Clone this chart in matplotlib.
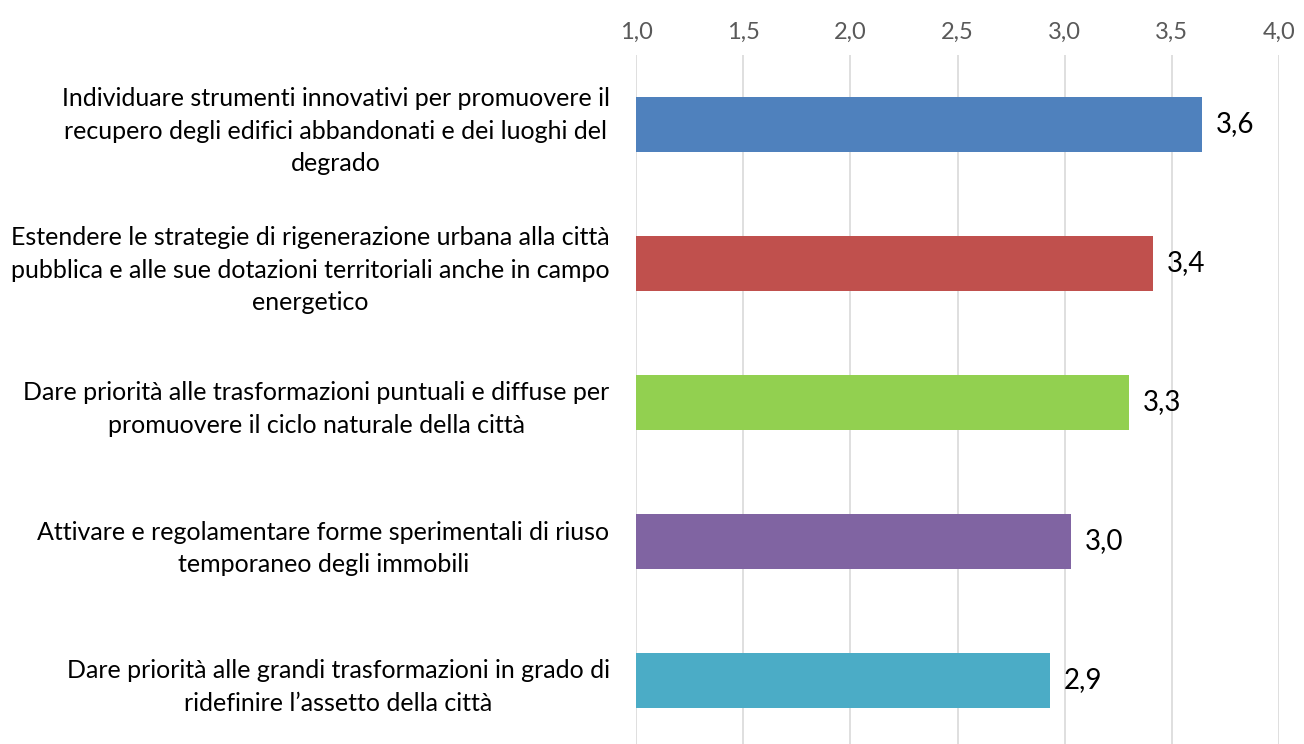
import matplotlib
matplotlib.use("Agg")
import matplotlib.pyplot as plt
from matplotlib.ticker import FuncFormatter

categories = [
    "Individuare strumenti innovativi per promuovere il\nrecupero degli edifici abbandonati e dei luoghi del\ndegrado",
    "Estendere le strategie di rigenerazione urbana alla città\npubblica e alle sue dotazioni territoriali anche in campo\nenergetico",
    "Dare priorità alle trasformazioni puntuali e diffuse per\npromuovere il ciclo naturale della città",
    "Attivare e regolamentare forme sperimentali di riuso\ntemporaneo degli immobili",
    "Dare priorità alle grandi trasformazioni in grado di\nridefinire l’assetto della città",
]
values = [3.64, 3.41, 3.30, 3.03, 2.93]
value_labels = ["3,6", "3,4", "3,3", "3,0", "2,9"]
colors = ["#4F81BD", "#C0504D", "#92D050", "#8064A2", "#4BACC6"]
xticks = [1.0, 1.5, 2.0, 2.5, 3.0, 3.5, 4.0]

plt.rcParams['font.family'] = ['Lato', 'DejaVu Sans']

fig = plt.figure(figsize=(13.04, 7.44), dpi=100)
ax = fig.add_axes([636/1304, -6/744, (1279-636)/1304, (750-55)/744])

ypos = list(range(len(categories)))
ax.barh(ypos, [v - 1.0 for v in values], left=1.0, height=0.4, color=colors, zorder=3)
for y, v, lab in zip(ypos, values, value_labels):
    ax.annotate(lab, (v, y), xytext=(10, 0), textcoords="offset points",
                va="center", ha="left", fontsize=20, color="black")

ax.set_xlim(1.0, 4.0)
ax.set_ylim(4.5, -0.5)
ax.set_xticks(xticks)
ax.xaxis.set_major_formatter(FuncFormatter(lambda x, p: f"{x:.1f}".replace(".", ",")))
ax.xaxis.tick_top()
ax.tick_params(axis="x", length=0, pad=9, labelsize=17, labelcolor="#595959")
ax.set_yticks(ypos)
ax.set_yticklabels(categories, fontsize=18, color="#000000", multialignment="center", linespacing=1.5)
ax.tick_params(axis="y", length=0, pad=19)
ax.grid(axis="x", color="#D9D9D9", linewidth=1.2, zorder=0)
for s in ax.spines.values():
    s.set_visible(False)

fig.savefig("out.png", dpi=100)
